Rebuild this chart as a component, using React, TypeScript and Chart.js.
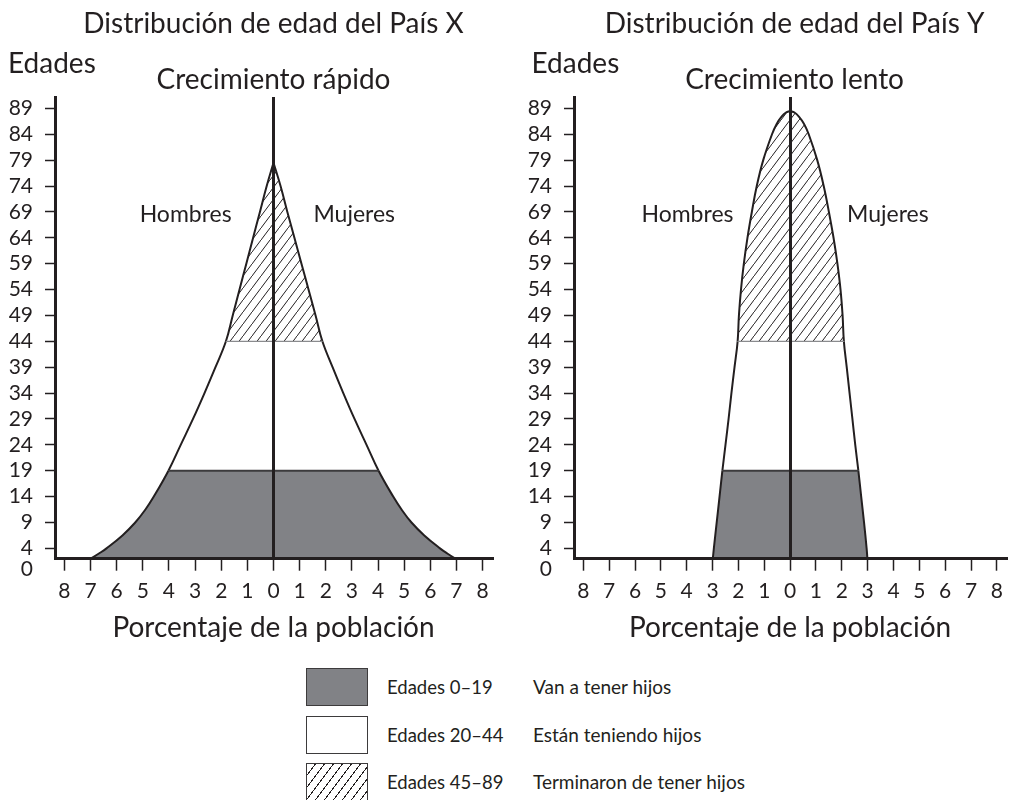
import React, { useEffect, useRef } from "react";
import { Chart, registerables } from "chart.js";

Chart.register(...registerables);

const INK = "#231f20";
const GRAY = "#818286";
const FONT = "Lato";

// ---- data ----
const xTicks = [-8, -7, -6, -5, -4, -3, -2, -1, 0, 1, 2, 3, 4, 5, 6, 7, 8];
const yTicks = [0, 4, 9, 14, 19, 24, 29, 34, 39, 44, 49, 54, 59, 64, 69, 74, 79, 84, 89];

// País X (crecimiento rápido): % of population at each age
const agesX = [2, 3, 4, 6.5, 9, 11.5, 14, 19, 24, 29, 34, 39, 44, 49, 54, 59, 64, 69, 74, 78.5];
const menX = [7.0, 6.68, 6.39, 5.78, 5.29, 4.9, 4.58, 4.02, 3.55, 3.08, 2.64, 2.22, 1.82, 1.56, 1.3, 1.04, 0.78, 0.52, 0.26, 0];
const womenX = [6.96, 6.65, 6.37, 5.77, 5.28, 4.9, 4.58, 4.02, 3.56, 3.1, 2.67, 2.26, 1.87, 1.61, 1.34, 1.07, 0.8, 0.53, 0.27, 0];

// País Y (crecimiento lento)
const agesY = [2, 4, 9, 14, 19, 24, 29, 34, 39, 44, 49, 54, 59, 64, 69, 74, 79, 84, 86, 87.4, 88.2, 88.5];
const menY = [2.99, 2.95, 2.84, 2.73, 2.62, 2.5, 2.38, 2.27, 2.15, 2.03, 1.98, 1.9, 1.79, 1.65, 1.48, 1.29, 1.04, 0.7, 0.52, 0.33, 0.16, 0];
const womenY = [2.99, 2.96, 2.86, 2.75, 2.64, 2.52, 2.41, 2.3, 2.19, 2.08, 2.03, 1.95, 1.83, 1.68, 1.5, 1.3, 1.05, 0.72, 0.54, 0.34, 0.17, 0];

// age bands
const bandTops = [19, 44];
const bandLabels = ["Edades 0\u201319", "Edades 20\u201344", "Edades 45\u201389"];
const bandNotes = ["Van a tener hijos", "Est\u00e1n teniendo hijos", "Terminaron de tener hijos"];

type Panel = {
  title: string;
  subtitle: string;
  ages: number[];
  men: number[];
  women: number[];
  yAxisWidth: number;
  padRight: number;
  centerShift: number;
  edadesX: number;
  hombresAt: number;
  mujeresAt: number;
};

const panels: Panel[] = [
  {
    title: "Distribuci\u00f3n de edad del Pa\u00eds X",
    subtitle: "Crecimiento r\u00e1pido",
    ages: agesX,
    men: menX,
    women: womenX,
    yAxisWidth: 55,
    padRight: 8,
    centerShift: 0,
    edadesX: 8,
    hombresAt: -3.36,
    mujeresAt: 3.09,
  },
  {
    title: "Distribuci\u00f3n de edad del Pa\u00eds Y",
    subtitle: "Crecimiento lento",
    ages: agesY,
    men: menY,
    women: womenY,
    yAxisWidth: 63,
    padRight: 0,
    centerShift: 4.5,
    edadesX: 20.5,
    hombresAt: -3.97,
    mujeresAt: 3.78,
  },
];

function makeHatch(): CanvasPattern | string {
  const w = 9;
  const h = 12;
  const c = document.createElement("canvas");
  c.width = w;
  c.height = h;
  const g = c.getContext("2d");
  if (!g) return INK;
  g.strokeStyle = INK;
  g.lineWidth = 1;
  g.beginPath();
  g.moveTo(-w, 2 * h);
  g.lineTo(2 * w, -h);
  g.stroke();
  return g.createPattern(c, "repeat") || INK;
}

const textPlugin = {
  id: "panelText",
  afterDraw(chart: any, _args: any, opts: any) {
    const ctx = chart.ctx as CanvasRenderingContext2D;
    const xs = chart.scales.x;
    const zero = xs.getPixelForValue(0) + opts.centerShift;
    ctx.save();
    ctx.fillStyle = INK;
    ctx.textBaseline = "alphabetic";
    ctx.textAlign = "center";
    ctx.font = `28px ${FONT}`;
    ctx.fillText(opts.title, zero, 33);
    ctx.fillText(opts.subtitle, zero, 89);
    ctx.textAlign = "left";
    ctx.fillText("Edades", opts.edadesX, 73);
    ctx.textAlign = "center";
    ctx.font = `23px ${FONT}`;
    ctx.fillText("Hombres", xs.getPixelForValue(opts.hombresAt), 222);
    ctx.fillText("Mujeres", xs.getPixelForValue(opts.mujeresAt), 222);
    ctx.restore();
  },
};

function PyramidChart({ panel }: { panel: Panel }) {
  const ref = useRef<HTMLCanvasElement | null>(null);
  useEffect(() => {
    if (!ref.current) return;
    const hatch = makeHatch();
    const bandColor = (age: number) =>
      age <= bandTops[0] ? GRAY : age <= bandTops[1] ? "rgba(255,255,255,0)" : hatch;

    const curve = (widths: number[], sign: number) => ({
      data: panel.ages.map((a, i) => ({ x: sign * widths[i], y: a })),
      borderColor: INK,
      borderWidth: 2,
      pointRadius: 0,
      fill: "origin",
      backgroundColor: GRAY,
      tension: 0.4,
      segment: {
        backgroundColor: (c: any) => bandColor(panel.ages[c.p1DataIndex]),
      },
    });
    const boundary = (age: number, color: string, width: number) => {
      const i = panel.ages.indexOf(age);
      return {
        data: [
          { x: -panel.men[i], y: age },
          { x: panel.women[i], y: age },
        ],
        borderColor: color,
        borderWidth: width,
        pointRadius: 0,
        fill: false,
        tension: 0,
      };
    };

    const chart = new Chart(ref.current, {
      type: "line",
      data: {
        datasets: [
          boundary(bandTops[0], "#3c3b3d", 2),
          boundary(bandTops[1], "#8a8b8e", 1.2),
          curve(panel.men, -1),
          curve(panel.women, 1),
        ] as any,
      },
      options: {
        indexAxis: "y",
        animation: false,
        responsive: false,
        devicePixelRatio: 1,
        layout: { padding: { top: 97, left: 0, right: panel.padRight, bottom: 0 } },
        plugins: {
          legend: { display: false },
          tooltip: { enabled: false },
          panelText: {
            title: panel.title,
            subtitle: panel.subtitle,
            centerShift: panel.centerShift,
            edadesX: panel.edadesX,
            hombresAt: panel.hombresAt,
            mujeresAt: panel.mujeresAt,
          },
        } as any,
        scales: {
          x: {
            type: "linear",
            min: -8.36,
            max: 8.36,
            afterBuildTicks: (s: any) => {
              s.ticks = xTicks.map((v) => ({ value: v }));
            },
            afterFit: (s: any) => {
              s.height = 101.3;
            },
            ticks: {
              autoSkip: false,
              maxRotation: 0,
              padding: 8,
              color: INK,
              font: { family: FONT, size: 21 },
              callback: (v: any) => String(Math.abs(Number(v))),
            },
            grid: {
              z: 1,
              drawOnChartArea: true,
              color: (c: any) => (c.tick && c.tick.value === 0 ? INK : "rgba(0,0,0,0)"),
              lineWidth: 3,
              tickLength: 12,
              tickWidth: 1.5,
              tickColor: INK,
            },
            border: { display: true, color: INK, width: 3, z: 2 },
            title: {
              display: true,
              text: "Porcentaje de la poblaci\u00f3n",
              color: INK,
              font: { family: FONT, size: 28 },
              padding: { top: 0, bottom: 15 },
            },
          },
          y: {
            type: "linear",
            min: 2,
            max: 91.2,
            afterBuildTicks: (s: any) => {
              s.ticks = yTicks.map((v) => ({ value: v }));
            },
            afterFit: (s: any) => {
              s.width = panel.yAxisWidth;
            },
            ticks: {
              autoSkip: false,
              padding: 12,
              color: INK,
              font: { family: FONT, size: 21 },
              callback: (v: any) => String(v),
            },
            grid: {
              drawOnChartArea: false,
              color: "rgba(0,0,0,0)",
              tickLength: 10,
              tickWidth: 1.5,
              tickColor: (c: any) => (c.tick && c.tick.value === 0 ? "rgba(0,0,0,0)" : INK),
            },
            border: { display: true, color: INK, width: 3, z: 2 },
          },
        } as any,
      },
      plugins: [textPlugin],
    } as any);
    return () => chart.destroy();
  }, [panel]);
  return <canvas ref={ref} width={500} height={660} style={{ display: "block" }} />;
}

const legendFills = [GRAY, "#ffffff", "hatch"];

export default function App() {
  return (
    <div
      style={{
        position: "absolute",
        left: 0,
        top: 0,
        width: 1011,
        height: 800,
        background: "#fff",
        overflow: "hidden",
        fontFamily: FONT,
        color: INK,
      }}
    >
      <div style={{ position: "absolute", left: 0, top: 0 }}>
        <PyramidChart panel={panels[0]} />
      </div>
      <div style={{ position: "absolute", left: 511, top: 0 }}>
        <PyramidChart panel={panels[1]} />
      </div>
      {bandLabels.map((label, i) => {
        const top = 668 + i * 47.5;
        const fill = legendFills[i];
        return (
          <React.Fragment key={label}>
            <div
              style={{
                position: "absolute",
                left: 306,
                top,
                width: 62,
                height: 38,
                boxSizing: "border-box",
                border: "1.5px solid #3d3b3c",
                background:
                  fill === "hatch"
                    ? `repeating-linear-gradient(126.9deg, rgba(255,255,255,0) 0px, rgba(255,255,255,0) 6.2px, ${INK} 6.2px, ${INK} 7.2px)`
                    : fill,
              }}
            />
            <div
              style={{
                position: "absolute",
                left: 387,
                top,
                height: 38,
                lineHeight: "38px",
                fontSize: 18.5,
                whiteSpace: "nowrap",
              }}
            >
              {label}
            </div>
            <div
              style={{
                position: "absolute",
                left: 533,
                top,
                height: 38,
                lineHeight: "38px",
                fontSize: 19,
                whiteSpace: "nowrap",
              }}
            >
              {bandNotes[i]}
            </div>
          </React.Fragment>
        );
      })}
    </div>
  );
}
